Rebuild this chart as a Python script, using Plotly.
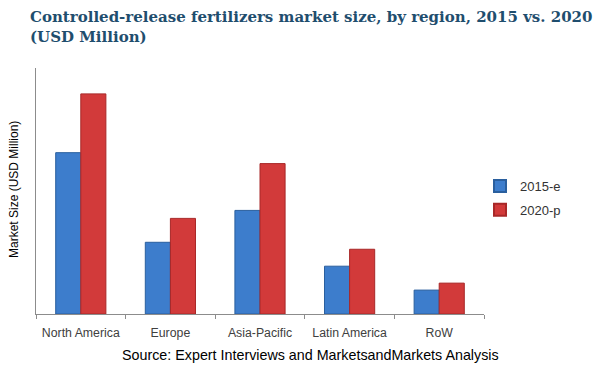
import plotly.graph_objects as go

regions = ["North America", "Europe", "Asia-Pacific", "Latin America", "RoW"]
series_2015 = [162, 72, 104, 48, 24]
series_2020 = [221, 96, 151, 65, 31]
series_names = ["2015-e", "2020-p"]
colors = ["#3D7DCC", "#D23A3A"]
edges = ["#2A5F9E", "#A82828"]
y_max = 247

L, R, T, B = 36, 116, 68, 71
PW, PH = 600 - L - R, 385 - T - B

fig = go.Figure()
for vals, name, c, e in zip([series_2015, series_2020], series_names, colors, edges):
    fig.add_trace(go.Bar(x=regions, y=vals, name=name, showlegend=False,
                         marker=dict(color=c, line=dict(color=e, width=1))))
# legend entries with small square markers
for i, (name, c, e) in enumerate(zip(series_names, colors, edges)):
    fig.add_trace(go.Scatter(x=[None], y=[None], mode="markers", name=name,
                             legendgroup=f"g{i}",
                             marker=dict(symbol="square", size=7, color=c,
                                         line=dict(color=e, width=1))))

fig.update_layout(
    width=600, height=385,
    margin=dict(l=L, r=R, t=T, b=B, autoexpand=False),
    paper_bgcolor="white", plot_bgcolor="white",
    barmode="group", bargap=0.44, bargroupgap=0,
    showlegend=True,
    legend=dict(x=(480 - L) / PW, y=(385 - B - 198) / PH, xanchor="left", yanchor="middle",
                bgcolor="rgba(0,0,0,0)",
                font=dict(family="Liberation Sans, Arial", size=13, color="#333333"),
                itemwidth=30, tracegroupgap=4, itemsizing="constant"),
    font=dict(family="Liberation Sans, Arial", color="#404040"),
)
fig.update_xaxes(showline=True, linecolor="#8C8C8C", linewidth=1, automargin=False,
                 ticks="outside", tickson="boundaries", ticklen=4, tickcolor="#8C8C8C",
                 ticklabelstandoff=7,
                 tickfont=dict(family="Liberation Sans, Arial", size=12.3, color="#404040"),
                 showgrid=False)
fig.update_yaxes(range=[0, y_max], showline=True, linecolor="#8C8C8C", linewidth=1,
                 automargin=False,
                 showticklabels=False, showgrid=False, zeroline=False, ticks="")

fig.add_annotation(xref="paper", yref="paper", x=(14 - L) / PW, y=(314 - 190) / PH,
                   xanchor="center", yanchor="middle", textangle=-90, showarrow=False,
                   text="Market Size (USD Million)",
                   font=dict(family="Liberation Sans, Arial", size=12, color="#000000"))

fig.add_annotation(xref="paper", yref="paper", xanchor="left", yanchor="top",
                   x=(28 - L) / PW, y=1 + 62 / PH, align="left", showarrow=False,
                   text="<b>Controlled-release fertilizers market size, by region, 2015 vs. 2020<br>(USD Million)</b>",
                   font=dict(family="DejaVu Serif", size=15, color="#1F4E6E"))

fig.add_annotation(xref="paper", yref="paper", xanchor="center", yanchor="middle",
                   x=(310 - L) / PW, y=-(355 - 314) / PH, showarrow=False,
                   text="Source: Expert Interviews and MarketsandMarkets Analysis",
                   font=dict(family="Liberation Sans, Arial", size=14.3, color="#000000"))

fig.write_html("out.html", config={"displayModeBar": False},
               post_script="document.body.style.margin='0';")
